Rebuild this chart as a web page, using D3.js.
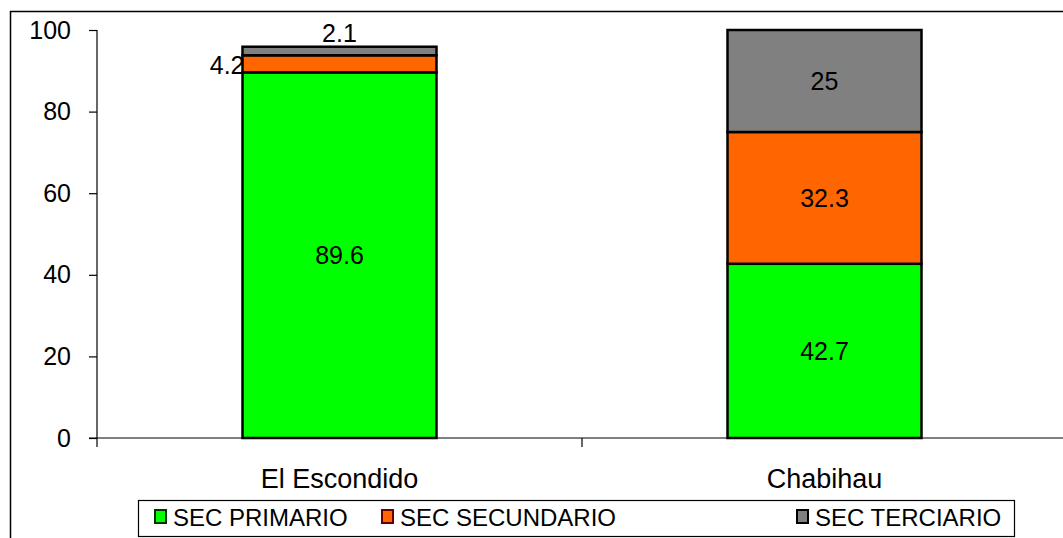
<!DOCTYPE html>
<html>
<head>
<meta charset="utf-8">
<script src="https://cdn.jsdelivr.net/npm/d3@7"></script>
<style>
  body { margin: 0; background: #fff; }
  svg { display: block; font-family: "Liberation Sans", Arial, sans-serif; }
</style>
</head>
<body>
<div id="chart"></div>
<script>
// chart data
var categories = ["El Escondido", "Chabihau"];
var primario = [89.6, 42.7];
var secundario = [4.2, 32.3];
var terciario = [2.1, 25];
var seriesNames = ["SEC PRIMARIO", "SEC SECUNDARIO", "SEC TERCIARIO"];
var seriesColors = ["#00ff00", "#ff6600", "#808080"];
var yTicks = [0, 20, 40, 60, 80, 100];

var width = 1063, height = 538;
var svg = d3.select("#chart").append("svg").attr("width", width).attr("height", height);

// outer frame of the chart area (runs off right and bottom)
svg.append("rect").attr("x", 10.5).attr("y", 11.5).attr("width", 1070).attr("height", 540)
    .attr("fill", "#fff").attr("stroke", "#000").attr("stroke-width", 1.5);

var plotLeft = 97, plotRight = 1067, plotTop = 30, plotBottom = 438;

var x = d3.scaleBand().domain(categories).range([plotLeft, plotRight]).paddingInner(0.6).paddingOuter(0.3);
var y = d3.scaleLinear().domain([0, 100]).range([plotBottom, plotTop]);

// stack the series
var rows = categories.map(function(c, i) {
    return { cat: c, p: primario[i], s: secundario[i], t: terciario[i] };
});
var layers = d3.stack().keys(["p", "s", "t"])(rows);

var g = svg.append("g");
layers.forEach(function(layer, k) {
    g.selectAll(".bar" + k).data(layer).enter().append("rect")
        .attr("x", function(d) { return x(d.data.cat); })
        .attr("y", function(d) { return y(d[1]); })
        .attr("width", x.bandwidth())
        .attr("height", function(d) { return y(d[0]) - y(d[1]); })
        .attr("fill", seriesColors[k])
        .attr("stroke", "#000").attr("stroke-width", 2.5);
});

// data labels
layers.forEach(function(layer, k) {
    layer.forEach(function(d, i) {
        var v = d[1] - d[0];
        var cx = x(d.data.cat) + x.bandwidth() / 2;
        var cy = (y(d[0]) + y(d[1])) / 2;
        var tx = cx, ty = cy, anchor = "middle";
        if (v < 5) {
            if (k == 1) { tx = x(d.data.cat) + 2; anchor = "end"; ty = cy + 1; }
            else { ty = y(d[1]) - 13; }
        }
        svg.append("text").attr("x", tx).attr("y", ty).attr("dy", "0.35em")
            .attr("text-anchor", anchor).attr("font-size", 25).attr("fill", "#000")
            .text(v.toFixed(1).replace(/\.0$/, ""));
    });
});

// y axis
var yAxis = d3.axisLeft(y).tickValues(yTicks).tickSize(8).tickPadding(18);
var ya = svg.append("g").attr("transform", "translate(" + plotLeft + ",0)").call(yAxis);
ya.select(".domain").attr("stroke", "#000").attr("stroke-width", 1.2).attr("d", "M0," + plotTop + "V" + plotBottom);
ya.selectAll("line").attr("stroke", "#000").attr("stroke-width", 1.2);
ya.selectAll("text").attr("font-size", 25).attr("fill", "#000").attr("font-family", "Liberation Sans, Arial, sans-serif");

// x axis line and category dividers
svg.append("line").attr("x1", plotLeft - 8).attr("x2", plotRight).attr("y1", plotBottom).attr("y2", plotBottom)
    .attr("stroke", "#000").attr("stroke-width", 1.2);
[plotLeft, plotLeft + (plotRight - plotLeft) / 2, plotRight].forEach(function(px) {
    svg.append("line").attr("x1", px).attr("x2", px).attr("y1", plotBottom).attr("y2", plotBottom + 9)
        .attr("stroke", "#000").attr("stroke-width", 1.2);
});
categories.forEach(function(c) {
    svg.append("text").attr("x", x(c) + x.bandwidth() / 2).attr("y", 488)
        .attr("text-anchor", "middle").attr("font-size", 27).attr("fill", "#000").text(c);
});

// legend
var lg = svg.append("g");
lg.append("rect").attr("x", 138.5).attr("y", 500.5).attr("width", 876).attr("height", 36)
    .attr("fill", "#fff").attr("stroke", "#000").attr("stroke-width", 1.2);
var legX = [155, 382, 797];
var legBorder = ["#003300", "#660000", "#000"];
seriesNames.forEach(function(n, i) {
    lg.append("rect").attr("x", legX[i]).attr("y", 510).attr("width", 11).attr("height", 13)
        .attr("fill", seriesColors[i]).attr("stroke", legBorder[i]).attr("stroke-width", 2);
    lg.append("text").attr("x", legX[i] + 18).attr("y", 526).attr("font-size", 24)
        .attr("fill", "#000").text(n);
});
</script>
</body>
</html>
